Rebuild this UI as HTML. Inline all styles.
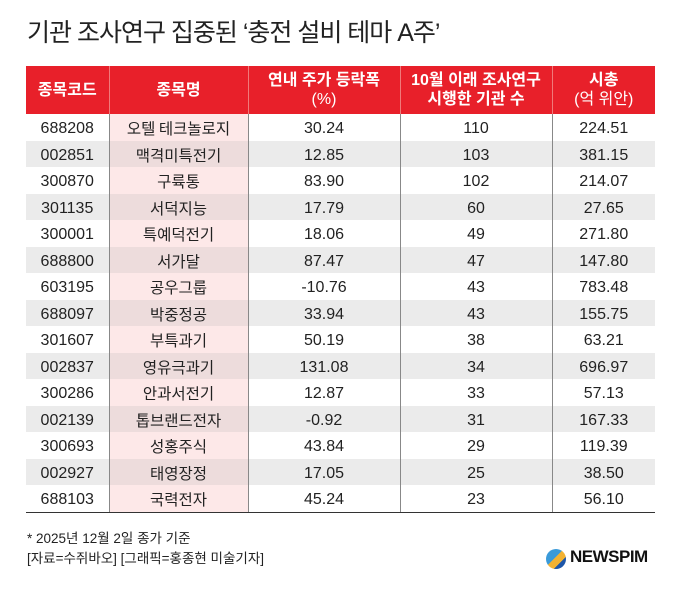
<!DOCTYPE html><html><head><meta charset="utf-8"><style>
body{margin:0;width:680px;height:591px;background:#fff;font-family:"Liberation Sans","Noto Sans CJK KR",sans-serif;position:relative;overflow:hidden;color:#222}
.t{position:absolute;left:27px;top:13px;font-size:25px;color:#222;letter-spacing:-1px}
table{position:absolute;left:26px;top:66px;border-collapse:collapse;width:629px;table-layout:fixed}
th{background:#e8202a;color:#fff;height:48px;font-size:16px;font-weight:bold;line-height:19px;border-left:1px solid #f07a7a;padding:0}
th:first-child{border-left:none}
th span{font-weight:normal}
td{height:26.5px;padding:0;text-align:center;font-size:16px;line-height:16px;border-left:1px solid #888;vertical-align:middle}
td span{position:relative;top:2px}
td.n span{position:relative;top:1px}
td.n{font-family:"Noto Sans CJK KR",sans-serif;font-size:15.5px;line-height:16px}
td:first-child{border-left:none}
tr.g td{background:#ebebeb}
td.n{background:#fde8e8}
tr.g td.n{background:#eddcdc}
tbody tr:last-child td{border-bottom:1.5px solid #333}
.f{position:absolute;left:27px;font-size:13.5px;color:#222}
</style></head><body>
<div class="t">기관 조사연구 집중된 ‘충전 설비 테마 A주’</div>
<table>
<colgroup><col style="width:83px"><col style="width:139px"><col style="width:152px"><col style="width:152px"><col style="width:103px"></colgroup>
<thead><tr><th>종목코드</th><th>종목명</th><th>연내 주가 등락폭<br><span>(%)</span></th><th>10월 이래 조사연구<br>시행한 기관 수</th><th>시총<br><span>(억 위안)</span></th></tr></thead>
<tbody>
<tr><td><span>688208</span></td><td class="n"><span>오텔 테크놀로지</span></td><td><span>30.24</span></td><td><span>110</span></td><td><span>224.51</span></td></tr>
<tr class="g"><td><span>002851</span></td><td class="n"><span>맥격미특전기</span></td><td><span>12.85</span></td><td><span>103</span></td><td><span>381.15</span></td></tr>
<tr><td><span>300870</span></td><td class="n"><span>구륙통</span></td><td><span>83.90</span></td><td><span>102</span></td><td><span>214.07</span></td></tr>
<tr class="g"><td><span>301135</span></td><td class="n"><span>서덕지능</span></td><td><span>17.79</span></td><td><span>60</span></td><td><span>27.65</span></td></tr>
<tr><td><span>300001</span></td><td class="n"><span>특예덕전기</span></td><td><span>18.06</span></td><td><span>49</span></td><td><span>271.80</span></td></tr>
<tr class="g"><td><span>688800</span></td><td class="n"><span>서가달</span></td><td><span>87.47</span></td><td><span>47</span></td><td><span>147.80</span></td></tr>
<tr><td><span>603195</span></td><td class="n"><span>공우그룹</span></td><td><span>-10.76</span></td><td><span>43</span></td><td><span>783.48</span></td></tr>
<tr class="g"><td><span>688097</span></td><td class="n"><span>박중정공</span></td><td><span>33.94</span></td><td><span>43</span></td><td><span>155.75</span></td></tr>
<tr><td><span>301607</span></td><td class="n"><span>부특과기</span></td><td><span>50.19</span></td><td><span>38</span></td><td><span>63.21</span></td></tr>
<tr class="g"><td><span>002837</span></td><td class="n"><span>영유극과기</span></td><td><span>131.08</span></td><td><span>34</span></td><td><span>696.97</span></td></tr>
<tr><td><span>300286</span></td><td class="n"><span>안과서전기</span></td><td><span>12.87</span></td><td><span>33</span></td><td><span>57.13</span></td></tr>
<tr class="g"><td><span>002139</span></td><td class="n"><span>톱브랜드전자</span></td><td><span>-0.92</span></td><td><span>31</span></td><td><span>167.33</span></td></tr>
<tr><td><span>300693</span></td><td class="n"><span>성홍주식</span></td><td><span>43.84</span></td><td><span>29</span></td><td><span>119.39</span></td></tr>
<tr class="g"><td><span>002927</span></td><td class="n"><span>태영장정</span></td><td><span>17.05</span></td><td><span>25</span></td><td><span>38.50</span></td></tr>
<tr><td><span>688103</span></td><td class="n"><span>국력전자</span></td><td><span>45.24</span></td><td><span>23</span></td><td><span>56.10</span></td></tr>
</tbody></table>
<div class="f" style="top:527px">* 2025년 12월 2일 종가 기준</div>
<div class="f" style="top:547px">[자료=수쥐바오] [그래픽=홍종현 미술기자]</div>
<div style="position:absolute;left:546px;top:549px;width:20px;height:20px;border-radius:50%;background:linear-gradient(135deg,#3a9ad9 45%,#f2b233 45%,#f2b233 70%,#1d56a8 70%)"></div>
<div style="position:absolute;left:570px;top:547px;font-size:17px;font-weight:bold;color:#111;letter-spacing:-0.5px">NEWSPIM</div>
</body></html>
